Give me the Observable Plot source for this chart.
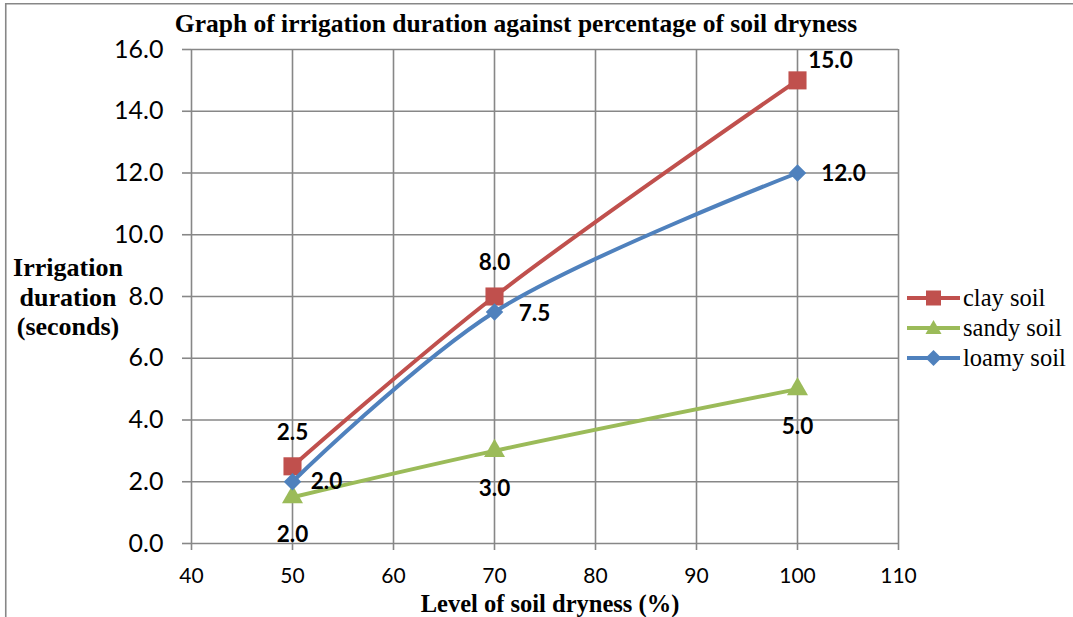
<!DOCTYPE html>
<html><head><meta charset="utf-8">
<script src="https://cdn.jsdelivr.net/npm/d3@7"></script>
<script src="https://cdn.jsdelivr.net/npm/@observablehq/plot@0.6"></script>
<style>
body{margin:0;background:#fff;}
#wrap{position:relative;width:1073px;height:617px;overflow:hidden;background:#fff}
#wrap svg{position:absolute;left:0;top:0}
</style></head><body><div id="wrap"></div>
<script>
// ---- data ----
const dryness = [50, 70, 100];
const claySoil = [2.5, 8.0, 15.0];
const sandySoil = [1.5, 3.0, 5.0];
const loamySoil = [2.0, 7.5, 12.0];
const clayLabels = ["2.5", "8.0", "15.0"];
const sandyLabels = ["2.0", "3.0", "5.0"];
const loamyLabels = ["2.0", "7.5", "12.0"];
const seriesNames = ["clay soil", "sandy soil", "loamy soil"];
const xTicks = [40, 50, 60, 70, 80, 90, 100, 110];
const yTicks = [0, 2, 4, 6, 8, 10, 12, 14, 16];
const titleText = "Graph of irrigation duration against percentage of soil dryness";
const xTitle = "Level of soil dryness (%)";
const yTitleLines = ["Irrigation", "duration", "(seconds)"];

// ---- styles ----
const colors = {clay: "#C0504D", sandy: "#9BBB59", loamy: "#4F81BD"};
const gridColor = "#878787";
const tickFont = "Lato, 'Open Sans', sans-serif";
const serif = "'Liberation Serif', 'DejaVu Serif', serif";

const rows = (name, ys, labels) => dryness.map((x, i) => ({series: name, x, y: ys[i], label: labels[i]}));
const clay = rows(seriesNames[0], claySoil, clayLabels);
const sandy = rows(seriesNames[1], sandySoil, sandyLabels);
const loamy = rows(seriesNames[2], loamySoil, loamyLabels);

const labelStyle = {x: "x", y: "y", text: "label", fontSize: 22.5, fontWeight: "bold", fontFamily: tickFont, fill: "black"};

const chart = Plot.plot({
  width: 1073, height: 617,
  marginLeft: 191, marginRight: 175, marginTop: 49, marginBottom: 74,
  x: {domain: [40, 110]},
  y: {domain: [0, 16]},
  style: {background: "transparent", color: "black", overflow: "visible"},
  marks: [
    Plot.gridX(xTicks, {stroke: gridColor, strokeOpacity: 1, strokeWidth: 1.6}),
    Plot.gridY(yTicks, {stroke: gridColor, strokeOpacity: 1, strokeWidth: 1.6}),
    Plot.axisY({ticks: yTicks, tickSize: 9, tickPadding: 19, tickFormat: d3.format(".1f"), fontSize: 25, fontFamily: tickFont, stroke: gridColor, strokeWidth: 1.6, fill: "black", label: null}),
    Plot.axisX({ticks: xTicks, tickSize: 7, tickPadding: 18, tickFormat: d => String(d), fontSize: 21, fontFamily: tickFont, stroke: gridColor, strokeWidth: 1.6, fill: "black", label: null}),
    Plot.line(clay, {x: "x", y: "y", stroke: colors.clay, strokeWidth: 4, curve: "catmull-rom"}),
    Plot.dot(clay, {x: "x", y: "y", symbol: "square", r: 10.2, fill: colors.clay}),
    Plot.line(sandy, {x: "x", y: "y", stroke: colors.sandy, strokeWidth: 4, curve: "catmull-rom"}),
    Plot.dot(sandy, {x: "x", y: "y", symbol: "triangle", r: 7.8, fill: colors.sandy}),
    Plot.line(loamy, {x: "x", y: "y", stroke: colors.loamy, strokeWidth: 4, curve: "catmull-rom"}),
    Plot.dot(loamy, {x: "x", y: "y", symbol: "square", rotate: 45, r: 7.0, fill: colors.loamy}),
    Plot.text(clay.slice(0, 2), {...labelStyle, dy: -34}),
    Plot.text(clay.slice(2), {...labelStyle, dx: 33, dy: -20}),
    Plot.text(loamy.slice(0, 1), {...labelStyle, dx: 34, dy: 0}),
    Plot.text(loamy.slice(1, 2), {...labelStyle, dx: 40, dy: 2}),
    Plot.text(loamy.slice(2), {...labelStyle, dx: 46, dy: 1}),
    Plot.text(sandy, {...labelStyle, dy: 38})
  ]
});
document.getElementById("wrap").appendChild(chart);

// ---- overlay: border, titles, legend ----
const ov = d3.select("#wrap").append("svg").attr("width", 1073).attr("height", 617);
ov.append("path").attr("d", "M5.75,617V3.75H1073").attr("fill", "none").attr("stroke", gridColor).attr("stroke-width", 1.6);
ov.append("text").attr("x", 516).attr("y", 32).attr("text-anchor", "middle")
  .attr("font-family", serif).attr("font-weight", "bold").attr("font-size", 25.5).text(titleText);
yTitleLines.forEach((t, i) => ov.append("text").attr("x", 68).attr("y", 276 + i * 29.5).attr("text-anchor", "middle")
  .attr("font-family", serif).attr("font-weight", "bold").attr("font-size", 26).text(t));
ov.append("text").attr("x", 550).attr("y", 612).attr("text-anchor", "middle")
  .attr("font-family", serif).attr("font-weight", "bold").attr("font-size", 24.5).text(xTitle);

const legendColors = [colors.clay, colors.sandy, colors.loamy];
seriesNames.forEach((name, i) => {
  const y = 298 + i * 30;
  const g = ov.append("g");
  g.append("line").attr("x1", 907).attr("x2", 960).attr("y1", y).attr("y2", y).attr("stroke", legendColors[i]).attr("stroke-width", 4);
  if (i === 0) g.append("rect").attr("x", 926).attr("y", y - 7.5).attr("width", 15).attr("height", 15).attr("fill", legendColors[i]);
  if (i === 1) g.append("path").attr("d", `M933.5,${y - 8}L941.5,${y + 6}L925.5,${y + 6}Z`).attr("fill", legendColors[i]);
  if (i === 2) g.append("path").attr("d", `M933.5,${y - 8}L941.5,${y}L933.5,${y + 8}L925.5,${y}Z`).attr("fill", legendColors[i]);
  g.append("text").attr("x", 963).attr("y", y + 8).attr("font-family", serif).attr("font-size", 24.5).text(name);
});
</script></body></html>
